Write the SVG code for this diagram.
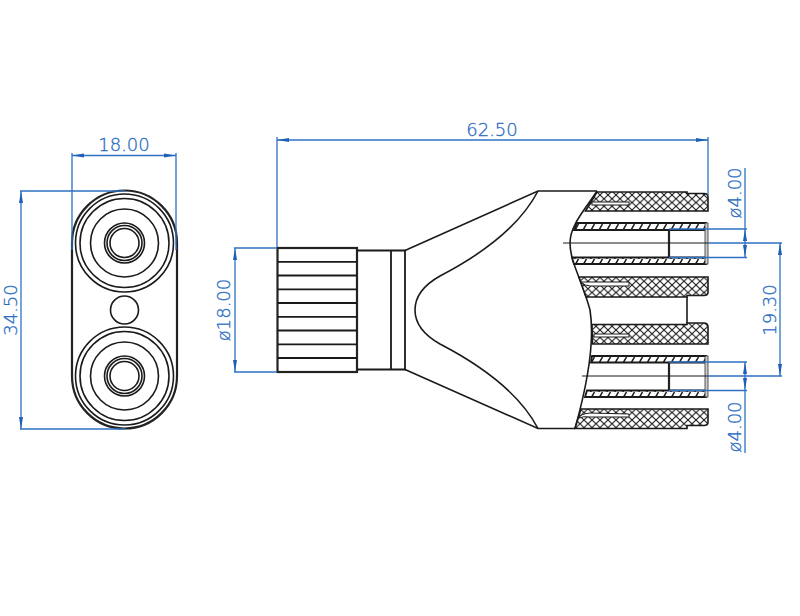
<svg xmlns="http://www.w3.org/2000/svg" width="800" height="616" viewBox="0 0 800 616">
<style>
.k{fill:none;stroke:#1a1a1a;stroke-width:1.600}
.t{fill:none;stroke:#222;stroke-width:2.200}
.x{fill:url(#cross);stroke:#1a1a1a;stroke-width:1.600}
.d{fill:url(#diag);stroke:#1a1a1a;stroke-width:1.800}
.s{fill:#fff;stroke:#1a1a1a;stroke-width:1}
.b{fill:none;stroke:#2f72c4;stroke-width:1.300}
.a{fill:#1f5fb5}
text{font-family:"DejaVu Sans","Liberation Sans",sans-serif;font-size:18px;font-weight:200;fill:#2a6cc2;stroke:#2a6cc2;stroke-width:0.3;text-anchor:middle}
</style>
<defs>
<pattern id="cross" width="8" height="7.500" patternUnits="userSpaceOnUse">
<rect width="8" height="7.500" fill="#fff"/>
<path d="M0 0L8 7.500M8 0L0 7.500" stroke="#1a1a1a" stroke-width="1.100"/>
</pattern>
<pattern id="diag" width="8" height="7" patternUnits="userSpaceOnUse">
<rect width="8" height="7" fill="#fff"/>
<path d="M-1.500 7L2.500 0M6.500 7L10.500 0" stroke="#1a1a1a" stroke-width="1.500"/>
</pattern>
</defs>

<g id="end-view">
<path class="t" d="M72 243A52.500 52.500 0 0 1 177 243V376A52.500 52.500 0 0 1 72 376Z"/>
<g class="k">
<circle cx="124.500" cy="243" r="49"/><circle cx="124.500" cy="243" r="44.500"/><circle cx="124.500" cy="243" r="34"/><circle cx="124.500" cy="243" r="20"/><circle cx="124.500" cy="243" r="17.500"/><circle cx="124.500" cy="243" r="14.500"/>
<circle cx="124.500" cy="376" r="49"/><circle cx="124.500" cy="376" r="44.500"/><circle cx="124.500" cy="376" r="34"/><circle cx="124.500" cy="376" r="20"/><circle cx="124.500" cy="376" r="17.500"/><circle cx="124.500" cy="376" r="14.500"/>
<circle cx="124.500" cy="310" r="14"/>
</g>
</g>

<g id="side-view">
<g id="knurl">
<rect class="t" x="277.500" y="248" width="79.500" height="124"/>
<path class="k" d="M277.500 261.800H357M277.500 275.500H357M277.500 289.300H357M277.500 303H357M277.500 316.800H357M277.500 330.500H357M277.500 344.300H357M277.500 358H357" style="stroke-width:1.800"/>
</g>
<path class="k" d="M357 250.500H405V369.500H357M391 250.500V369.500" style="stroke-width:1.800"/>
<path class="k" d="M405 250.500L538 191H597M405 369.500L538 428.500H575"/>
<path class="k" d="M538 191C522 222 490 250 440 276C424 285 415 297 415 310C415 323 424 335 440 344C490 370 522 398 538 428.500"/>
<path class="k" d="M597 191C585 210 570 225 570 243C570 262 582 280 590 310C594 335 590 375 575 428.500"/>
<path class="x" d="M597 192H687V193.500H704Q708 193.500 708 197V211H585.500Z"/>
<rect class="s" x="592" y="202" width="37" height="3"/>
<path class="x" d="M579 277H708V292Q708 295.500 704 295.500H687V297H586Z"/>
<path class="s" d="M581 282H629V286H590Q585 286 581 282Z"/>
<path class="k" d="M687 297V323"/>
<path class="x" d="M592 324.500H687V323H704Q708 323 708 327V344H592.500Z"/>
<rect class="s" x="594" y="334" width="35" height="3"/>
<path class="x" d="M581 409H708V422Q708 425.500 704 425.500H687V428.500H575Z"/>
<path class="s" d="M579 418Q580 414 590 413L629 414V417H590Q583 416 579 418Z"/>
<path class="d" d="M577 223H706V230H574Z"/>
<path class="d" d="M572 257.500H706V264H574Z"/>
<path class="d" d="M592 356H706V362.500H591Z"/>
<path class="d" d="M587 390.500H706V397H585Z"/>
<path class="t" d="M669 229V257.500M669 362V390.500" style="stroke-width:2.200"/>
<rect x="705" y="223" width="3" height="41" fill="#ccc" stroke="#333" stroke-width="0.800"/>
<rect x="705" y="356" width="3" height="41" fill="#ccc" stroke="#333" stroke-width="0.800"/>
<path class="k" d="M563 243H708M582 376H708" style="stroke-width:1"/>
</g>

<g id="dimensions">
<g class="b">
<path d="M72 153V250M176 153V250"/>
<path d="M20 191H125M20 429H125"/>
<path d="M277 137V247M708 137V195"/>
<path d="M234 248H277M234 372H277"/>
<path d="M669 229H747M669 257.500H747M708 243H782M669 362H747M669 390.500H747M708 376H782"/>
<path d="M745 168V257M745 362V453"/>
<line x1="72" y1="155.500" x2="176" y2="155.500"/>
<line x1="21" y1="191" x2="21" y2="429"/>
<line x1="277" y1="140" x2="708" y2="140"/>
<line x1="235" y1="248" x2="235" y2="372"/>
<line x1="780" y1="243" x2="780" y2="376"/>
</g>
<g class="a">
<path d="M72 155.500L84 153.500V157.500ZM176 155.500L164 153.500V157.500Z"/>
<path d="M21 191L19 203H23ZM21 429L19 417H23Z"/>
<path d="M277 140L289 138V142ZM708 140L696 138V142Z"/>
<path d="M235 248L233 260H237ZM235 372L233 360H237Z"/>
<path d="M780 243L778 255H782ZM780 376L778 364H782Z"/>
<path d="M745 229L743 241H747ZM745 257L743 245H747ZM745 362L743 374H747ZM745 390L743 378H747Z"/>
</g>
<text x="124" y="151">18.00</text>
<text x="492" y="136">62.50</text>
<text transform="translate(17 310) rotate(-90)">34.50</text>
<text transform="translate(230 310) rotate(-90)">ø18.00</text>
<text transform="translate(741 193) rotate(-90)">ø4.00</text>
<text transform="translate(741 427) rotate(-90)">ø4.00</text>
<text transform="translate(776 310) rotate(-90)">19.30</text>
</g>
</svg>
